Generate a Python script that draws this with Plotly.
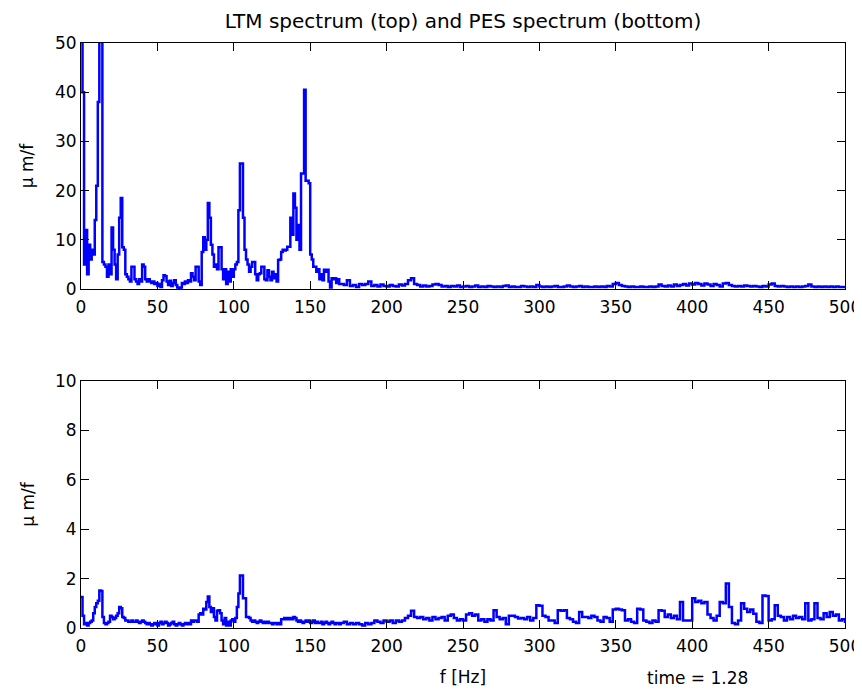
"""LTM vs PES amplitude spectra, two stacked panels (MATLAB-style box axes)."""
import plotly.graph_objects as go
from plotly.subplots import make_subplots

# frequency grid: 1 Hz up to 169 Hz, 2 Hz above
freq_fine = list(range(0, 170))
freq_coarse = list(range(170, 501, 2))

# LTM spectrum (top)
ltm_fine = [
    60, 40, 5, 12, 3, 9, 6, 8, 7, 14,
    21, 38, 60, 55, 5.5, 5, 4.5, 2.5, 5, 3,
    12.5, 8, 5, 2, 7, 14.5, 18.5, 8.5, 8, 3,
    2.5, 2, 1.5, 4.5, 4.5, 2, 1.5, 1, 2, 1.5,
    5, 4.5, 2, 1.5, 2, 1.5, 1.2, 1.5, 1, 1.2,
    0.6, 1, 0.4, 1.8, 2.8, 2.6, 1.5, 0.8, 1.7, 0.6,
    1.2, 1.8, 0.8, 0.3, 0.2, 0.3, 1.2, 1, 1.5, 1.2,
    1.8, 1.5, 3.2, 2.5, 1.8, 4.5, 4.5, 1.5, 0.8, 7.5,
    10.5, 8, 10, 17.5, 14.5, 9, 7, 4.5, 5, 4,
    8.5, 8.5, 4, 2, 4, 1, 3.5, 1.5, 4, 2.5,
    4, 5, 5.5, 16, 25.5, 25.5, 14.5, 8, 6, 5,
    3.5, 4.5, 5.5, 5.5, 3, 1.8, 3, 3.2, 4.5, 4.5,
    2, 1.8, 3.8, 2.5, 1.8, 3.5, 2.2, 3, 1.5, 5.9,
    6, 7.5, 8, 7.8, 8, 8.6, 8.6, 14.5, 11, 19.4,
    16.5, 10, 13, 8, 23.5, 23.5, 40.5, 22, 22, 21.5,
    7, 6, 4.5, 4.5, 3.5, 4, 2, 3, 1.8, 3.9,
    3.5, 3.9, 1.5, 0.3, 2.2, 2, 2.2, 1.2, 2, 1,
]
ltm_coarse = [
    1, 0.8, 1.8, 0.6, 0.8, 0.4, 1, 0.8, 1, 1.5,
    0.6, 0.8, 0.5, 0.9, 0.6, 0.5, 0.8, 0.6, 0.5, 0.9,
    0.7, 1, 1.8, 2.2, 1, 0.8, 0.5, 0.7, 0.5, 0.6,
    0.9, 1, 0.8, 0.5, 0.6, 0.4, 0.6, 0.5, 0.7, 0.4,
    0.5, 0.6, 0.4, 0.5, 0.7, 0.4, 0.5, 0.4, 0.6, 0.5,
    0.4, 0.5, 0.4, 0.6, 0.7, 0.4, 0.5, 0.4, 0.4, 0.6,
    0.5, 0.4, 0.5, 0.4, 0.8, 0.5, 0.4, 0.5, 0.4, 0.5,
    0.6, 0.4, 0.4, 0.5, 0.7, 0.5, 0.4, 0.5, 0.6, 0.4,
    0.5, 0.4, 0.4, 0.5, 0.4, 0.5, 0.4, 0.6, 0.5, 1,
    1.2, 0.8, 0.6, 0.5, 0.4, 0.5, 0.4, 0.4, 0.5, 0.4,
    0.4, 0.5, 0.4, 0.5, 0.9, 0.6, 0.5, 0.7, 0.5, 0.9,
    0.6, 0.8, 1, 0.7, 1.1, 0.9, 1.2, 1, 0.7, 1.1,
    0.9, 0.6, 1, 0.8, 0.5, 1.1, 1.2, 0.8, 0.6, 0.5,
    0.6, 0.5, 0.7, 0.6, 0.5, 0.6, 0.5, 0.4, 0.6, 0.5,
    0.9, 1.1, 0.6, 0.5, 0.6, 0.5, 0.4, 0.5, 0.4, 0.5,
    0.4, 0.5, 0.6, 0.9, 0.5, 0.4, 0.5, 0.4, 0.5, 0.4,
    0.5, 0.4, 0.5, 0.4, 0.4, 0.5,
]

# PES spectrum (bottom)
pes_fine = [
    1.25, 0.5, 0.15, 0.2, 0.1, 0.2, 0.25, 0.3, 0.6, 0.85,
    1, 1.1, 1.52, 1.5, 0.45, 0.2, 0.15, 0.2, 0.25, 0.5,
    0.45, 0.35, 0.4, 0.5, 0.6, 0.85, 0.8, 0.45, 0.4, 0.3,
    0.3, 0.25, 0.25, 0.3, 0.25, 0.25, 0.3, 0.25, 0.2, 0.25,
    0.3, 0.25, 0.2, 0.15, 0.2, 0.15, 0.1, 0.15, 0.2, 0.15,
    0.1, 0.2, 0.25, 0.15, 0.2, 0.25, 0.2, 0.1, 0.15, 0.2,
    0.25, 0.15, 0.1, 0.15, 0.2, 0.15, 0.1, 0.15, 0.2, 0.15,
    0.2, 0.15, 0.3, 0.25, 0.3, 0.3, 0.25, 0.55, 0.6, 0.55,
    0.78, 0.75, 1.05, 1.28, 0.85, 0.65, 0.8, 0.45, 0.3, 0.7,
    0.72, 0.6, 0.3, 0.15, 0.4, 0.1, 0.25, 0.1, 0.3, 0.35,
    0.25, 0.4, 0.85, 1.4, 2.13, 2.13, 1.2, 1.2, 0.45, 0.45,
    0.4, 0.3, 0.25, 0.3, 0.25, 0.2, 0.25, 0.3, 0.25, 0.2,
    0.25, 0.2, 0.25, 0.2, 0.2, 0.15, 0.2, 0.2, 0.15, 0.2,
    0.15, 0.35, 0.35, 0.4, 0.35, 0.4, 0.35, 0.4, 0.35, 0.45,
    0.4, 0.3, 0.25, 0.3, 0.25, 0.2, 0.25, 0.3, 0.25, 0.3,
    0.2, 0.25, 0.3, 0.2, 0.25, 0.2, 0.2, 0.25, 0.15, 0.2,
    0.25, 0.2, 0.15, 0.2, 0.25, 0.2, 0.15, 0.2, 0.2, 0.15,
]
pes_coarse = [
    0.2, 0.25, 0.15, 0.2, 0.15, 0.2, 0.15, 0.1, 0.2, 0.15,
    0.2, 0.3, 0.25, 0.2, 0.3, 0.25, 0.3, 0.2, 0.3, 0.25,
    0.3, 0.4, 0.5, 0.7, 0.45, 0.4, 0.45, 0.35, 0.4, 0.3,
    0.45, 0.35, 0.4, 0.45, 0.3, 0.5, 0.55, 0.4, 0.3, 0.35,
    0.3, 0.55, 0.6, 0.5, 0.55, 0.3, 0.35, 0.25, 0.35, 0.3,
    0.72, 0.45, 0.35, 0.4, 0.15, 0.5, 0.5, 0.45, 0.38, 0.4,
    0.35, 0.45, 0.3, 0.4, 0.92, 0.9, 0.5, 0.45, 0.3, 0.3,
    0.2, 0.72, 0.7, 0.72, 0.4, 0.35, 0.25, 0.2, 0.65, 0.45,
    0.45, 0.4, 0.5, 0.45, 0.3, 0.25, 0.45, 0.4, 0.25, 0.75,
    0.78, 0.75, 0.72, 0.3, 0.35, 0.25, 0.2, 0.78, 0.75, 0.3,
    0.25, 0.2, 0.3, 0.25, 0.72, 0.7, 0.45, 0.55, 0.4, 0.5,
    0.35, 1.05, 0.3, 0.3, 0.3, 1.2, 1.05, 1.1, 1, 1.05,
    0.55, 0.4, 0.3, 0.5, 1.05, 1, 1.8, 0.85, 0.2, 0.15,
    0.3, 1, 0.78, 0.65, 0.75, 0.58, 0.25, 0.2, 1.32, 1.3,
    0.3, 0.35, 0.92, 0.5, 0.45, 0.3, 0.45, 0.35, 0.5, 0.4,
    0.45, 0.35, 1, 0.3, 0.35, 1, 0.4, 0.35, 0.6, 0.45,
    0.65, 0.5, 0.55, 0.3, 0.35, 0.2,
]

freq = freq_fine + freq_coarse
ltm = ltm_fine + ltm_coarse
pes = pes_fine + pes_coarse

FONT = "DejaVu Sans"
BLUE = "rgb(0,0,255)"
txt = dict(family=FONT, size=17, color="black")

# page body adds an 8 px offset, so the figure is 8 px smaller than the window
W, H = 854, 681

fig = make_subplots(rows=2, cols=1)
fig.add_trace(go.Scatter(x=freq, y=ltm, mode="lines", line=dict(color=BLUE, width=2.5, shape="hv"),
                         showlegend=False), row=1, col=1)
fig.add_trace(go.Scatter(x=freq, y=pes, mode="lines", line=dict(color=BLUE, width=2.5, shape="hv"),
                         showlegend=False), row=2, col=1)

box = dict(showline=True, linecolor="black", linewidth=1, mirror="ticks", automargin=False,
           ticks="inside", ticklen=8, tickcolor="black", showgrid=False, zeroline=False,
           tickfont=txt)

fig.update_xaxes(range=[0, 500], tick0=0, dtick=50, ticklabelstandoff=3, **box)
fig.update_yaxes(**box)
fig.update_layout(
    xaxis=dict(domain=[0, 1]),
    yaxis=dict(domain=[0.5795, 1.0], range=[0, 50], dtick=10,
               title=dict(text="μ m/f", standoff=16, font=txt)),
    xaxis2=dict(domain=[0, 1], title=dict(text="f [Hz]", standoff=15, font=txt)),
    yaxis2=dict(domain=[0, 0.4222], range=[0, 10], dtick=2,
                title=dict(text="μ m/f", standoff=16, font=txt)),
    title=dict(text="LTM spectrum (top) and PES spectrum (bottom)", x=0.5, xref="paper",
               y=1 - 13 / H, yref="container", yanchor="middle", automargin=False,
               font=dict(family=FONT, size=20, color="black")),
    annotations=[dict(text="time = 1.28", xref="paper", yref="paper", x=0.876, y=-0.106,
                      showarrow=False, font=txt)],
    width=W, height=H,
    margin=dict(l=73, r=17, t=35, b=61, autoexpand=False),
    paper_bgcolor="white", plot_bgcolor="white",
)

fig.write_html("out.html")
